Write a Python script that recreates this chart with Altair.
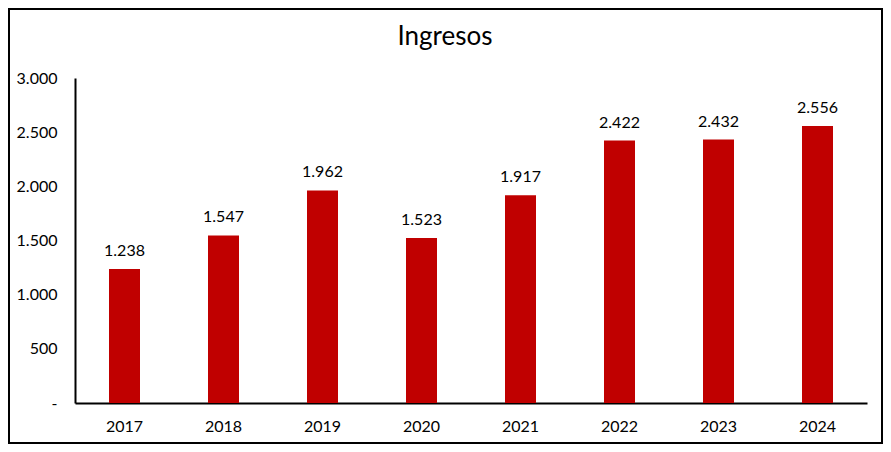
import altair as alt
import pandas as pd

years = ["2017", "2018", "2019", "2020", "2021", "2022", "2023", "2024"]
ingresos = [1238, 1547, 1962, 1523, 1917, 2422, 2432, 2556]
y_ticks = [0, 500, 1000, 1500, 2000, 2500, 3000]
title_text = ["Ingresos"]

df = pd.DataFrame({"year": years, "value": ingresos})
df["label"] = [f"{v:,}".replace(",", ".") for v in ingresos]

FONT = "Lato"
FS = 16
W, H = 792, 325
PAD = {"left": 67, "top": 70, "right": 16, "bottom": 41}

base = alt.Chart(df)

x = alt.X("year:N", title=None, sort=years,
          scale=alt.Scale(paddingInner=0, paddingOuter=0),
          axis=alt.Axis(labelAngle=0, ticks=False, domainColor="#000000", domainWidth=2,
                        labelFont=FONT, labelFontSize=FS, labelColor="#000000", labelPadding=15))
y = alt.Y("value:Q", title=None,
          scale=alt.Scale(domain=[0, 3000], nice=False),
          axis=alt.Axis(values=y_ticks, grid=False, ticks=False, domainColor="#000000", domainWidth=2,
                        labelFont=FONT, labelFontSize=FS, labelColor="#000000", labelPadding=18,
                        labelExpr="datum.value == 0 ? '-' : replace(format(datum.value, ','), ',', '.')"))

bars = base.mark_bar(size=31, color="#C00000").encode(x=x, y=y)
labels = base.mark_text(baseline="bottom", dy=-10, font=FONT, fontSize=FS, color="#000000").encode(
    x=alt.X("year:N", sort=years), y="value:Q", text="label:N")

title = alt.Chart(pd.DataFrame({"t": title_text})).mark_text(
    font=FONT, fontSize=26, color="#000000", baseline="middle", align="center"
).encode(x=alt.value(370), y=alt.value(-41), text="t:N")

border_df = pd.DataFrame({"b": [1]})
border = alt.Chart(border_df).mark_rect(fill=None, stroke="#000000", strokeWidth=2).encode(
    x=alt.value(-PAD["left"] + 1), x2=alt.value(W + PAD["right"] - 1),
    y=alt.value(-PAD["top"] + 1), y2=alt.value(H + PAD["bottom"] - 1))

chart = alt.layer(bars, labels, title, border).properties(
    width=W, height=H,
    padding=PAD,
    autosize=alt.AutoSizeParams(type="none"),
    background="white",
).configure_view(stroke=None)

chart.save("out.html", embed_options={"renderer": "svg", "actions": False})
